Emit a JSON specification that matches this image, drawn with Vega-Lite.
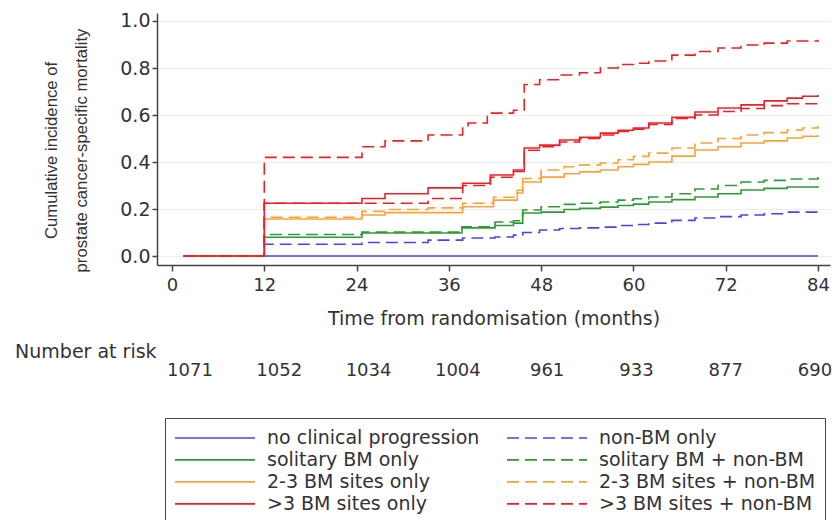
{
  "$schema": "https://vega.github.io/schema/vega-lite/v6.json",
  "width": 673,
  "height": 252,
  "autosize": {"type": "none"},
  "padding": {"left": 157, "top": 13, "right": 7, "bottom": 255},
  "background": "white",
  "config": {
    "view": {"stroke": null},
    "font": "DejaVu Sans",
    "axis": {
      "domainColor": "#444",
      "domainWidth": 1.5,
      "tickColor": "#444",
      "tickWidth": 1.5,
      "labelColor": "#333",
      "titleColor": "#333",
      "titleFontWeight": "normal",
      "labelFlush": false
    }
  },
  "layer": [
    {
      "data": {
        "values": [
          {"series": "no clinical progression", "month": 1.5, "cif": 0},
          {"series": "no clinical progression", "month": 12, "cif": 0},
          {"series": "no clinical progression", "month": 84, "cif": 0},

          {"series": "non-BM only", "month": 1.5, "cif": 0},
          {"series": "non-BM only", "month": 12, "cif": 0.05},
          {"series": "non-BM only", "month": 24.7, "cif": 0.058},
          {"series": "non-BM only", "month": 33.3, "cif": 0.068},
          {"series": "non-BM only", "month": 37.8, "cif": 0.077},
          {"series": "non-BM only", "month": 42, "cif": 0.081},
          {"series": "non-BM only", "month": 44.4, "cif": 0.089},
          {"series": "non-BM only", "month": 45.6, "cif": 0.1},
          {"series": "non-BM only", "month": 47.8, "cif": 0.111},
          {"series": "non-BM only", "month": 50.4, "cif": 0.117},
          {"series": "non-BM only", "month": 53, "cif": 0.12},
          {"series": "non-BM only", "month": 55.7, "cif": 0.123},
          {"series": "non-BM only", "month": 58, "cif": 0.13},
          {"series": "non-BM only", "month": 60, "cif": 0.134},
          {"series": "non-BM only", "month": 62, "cif": 0.14},
          {"series": "non-BM only", "month": 65, "cif": 0.152},
          {"series": "non-BM only", "month": 68, "cif": 0.162},
          {"series": "non-BM only", "month": 71, "cif": 0.168},
          {"series": "non-BM only", "month": 74, "cif": 0.175},
          {"series": "non-BM only", "month": 77, "cif": 0.18},
          {"series": "non-BM only", "month": 80, "cif": 0.187},
          {"series": "non-BM only", "month": 84, "cif": 0.191},

          {"series": "solitary BM only", "month": 1.5, "cif": 0},
          {"series": "solitary BM only", "month": 12, "cif": 0.08},
          {"series": "solitary BM only", "month": 24.7, "cif": 0.098},
          {"series": "solitary BM only", "month": 37.7, "cif": 0.12},
          {"series": "solitary BM only", "month": 42, "cif": 0.13},
          {"series": "solitary BM only", "month": 44.4, "cif": 0.14},
          {"series": "solitary BM only", "month": 45.6, "cif": 0.183},
          {"series": "solitary BM only", "month": 48, "cif": 0.187},
          {"series": "solitary BM only", "month": 51, "cif": 0.198},
          {"series": "solitary BM only", "month": 53, "cif": 0.203},
          {"series": "solitary BM only", "month": 55.7, "cif": 0.208},
          {"series": "solitary BM only", "month": 58, "cif": 0.215},
          {"series": "solitary BM only", "month": 60, "cif": 0.221},
          {"series": "solitary BM only", "month": 62, "cif": 0.23},
          {"series": "solitary BM only", "month": 65, "cif": 0.24},
          {"series": "solitary BM only", "month": 68, "cif": 0.251},
          {"series": "solitary BM only", "month": 71, "cif": 0.265},
          {"series": "solitary BM only", "month": 74, "cif": 0.281},
          {"series": "solitary BM only", "month": 77, "cif": 0.288},
          {"series": "solitary BM only", "month": 80, "cif": 0.294},
          {"series": "solitary BM only", "month": 84, "cif": 0.298},

          {"series": "solitary BM + non-BM", "month": 1.5, "cif": 0},
          {"series": "solitary BM + non-BM", "month": 12, "cif": 0.092},
          {"series": "solitary BM + non-BM", "month": 24.7, "cif": 0.102},
          {"series": "solitary BM + non-BM", "month": 37.7, "cif": 0.125},
          {"series": "solitary BM + non-BM", "month": 42, "cif": 0.145},
          {"series": "solitary BM + non-BM", "month": 44.4, "cif": 0.15},
          {"series": "solitary BM + non-BM", "month": 45.6, "cif": 0.196},
          {"series": "solitary BM + non-BM", "month": 48, "cif": 0.21},
          {"series": "solitary BM + non-BM", "month": 51, "cif": 0.22},
          {"series": "solitary BM + non-BM", "month": 53, "cif": 0.225},
          {"series": "solitary BM + non-BM", "month": 55.7, "cif": 0.23},
          {"series": "solitary BM + non-BM", "month": 58, "cif": 0.238},
          {"series": "solitary BM + non-BM", "month": 60, "cif": 0.244},
          {"series": "solitary BM + non-BM", "month": 62, "cif": 0.251},
          {"series": "solitary BM + non-BM", "month": 65, "cif": 0.265},
          {"series": "solitary BM + non-BM", "month": 68, "cif": 0.285},
          {"series": "solitary BM + non-BM", "month": 71, "cif": 0.3},
          {"series": "solitary BM + non-BM", "month": 74, "cif": 0.315},
          {"series": "solitary BM + non-BM", "month": 77, "cif": 0.322},
          {"series": "solitary BM + non-BM", "month": 80, "cif": 0.328},
          {"series": "solitary BM + non-BM", "month": 84, "cif": 0.336},

          {"series": "2-3 BM sites only", "month": 1.5, "cif": 0},
          {"series": "2-3 BM sites only", "month": 12, "cif": 0.158},
          {"series": "2-3 BM sites only", "month": 24.7, "cif": 0.175},
          {"series": "2-3 BM sites only", "month": 27.7, "cif": 0.185},
          {"series": "2-3 BM sites only", "month": 37.8, "cif": 0.21},
          {"series": "2-3 BM sites only", "month": 41.8, "cif": 0.238},
          {"series": "2-3 BM sites only", "month": 44.9, "cif": 0.268},
          {"series": "2-3 BM sites only", "month": 45.6, "cif": 0.315},
          {"series": "2-3 BM sites only", "month": 48, "cif": 0.336},
          {"series": "2-3 BM sites only", "month": 51, "cif": 0.35},
          {"series": "2-3 BM sites only", "month": 53, "cif": 0.358},
          {"series": "2-3 BM sites only", "month": 55.7, "cif": 0.366},
          {"series": "2-3 BM sites only", "month": 58, "cif": 0.38},
          {"series": "2-3 BM sites only", "month": 60, "cif": 0.39},
          {"series": "2-3 BM sites only", "month": 62, "cif": 0.4},
          {"series": "2-3 BM sites only", "month": 65, "cif": 0.425},
          {"series": "2-3 BM sites only", "month": 68, "cif": 0.451},
          {"series": "2-3 BM sites only", "month": 71, "cif": 0.465},
          {"series": "2-3 BM sites only", "month": 74, "cif": 0.481},
          {"series": "2-3 BM sites only", "month": 77, "cif": 0.49},
          {"series": "2-3 BM sites only", "month": 80, "cif": 0.502},
          {"series": "2-3 BM sites only", "month": 82, "cif": 0.51},
          {"series": "2-3 BM sites only", "month": 84, "cif": 0.515},

          {"series": "2-3 BM sites + non-BM", "month": 1.5, "cif": 0},
          {"series": "2-3 BM sites + non-BM", "month": 12, "cif": 0.165},
          {"series": "2-3 BM sites + non-BM", "month": 24.7, "cif": 0.19},
          {"series": "2-3 BM sites + non-BM", "month": 27.7, "cif": 0.198},
          {"series": "2-3 BM sites + non-BM", "month": 33.3, "cif": 0.205},
          {"series": "2-3 BM sites + non-BM", "month": 37.8, "cif": 0.225},
          {"series": "2-3 BM sites + non-BM", "month": 41.8, "cif": 0.25},
          {"series": "2-3 BM sites + non-BM", "month": 44.9, "cif": 0.28},
          {"series": "2-3 BM sites + non-BM", "month": 45.6, "cif": 0.33},
          {"series": "2-3 BM sites + non-BM", "month": 48, "cif": 0.366},
          {"series": "2-3 BM sites + non-BM", "month": 51, "cif": 0.38},
          {"series": "2-3 BM sites + non-BM", "month": 53, "cif": 0.388},
          {"series": "2-3 BM sites + non-BM", "month": 55.7, "cif": 0.396},
          {"series": "2-3 BM sites + non-BM", "month": 58, "cif": 0.41},
          {"series": "2-3 BM sites + non-BM", "month": 60, "cif": 0.424},
          {"series": "2-3 BM sites + non-BM", "month": 62, "cif": 0.438},
          {"series": "2-3 BM sites + non-BM", "month": 65, "cif": 0.46},
          {"series": "2-3 BM sites + non-BM", "month": 68, "cif": 0.481},
          {"series": "2-3 BM sites + non-BM", "month": 71, "cif": 0.5},
          {"series": "2-3 BM sites + non-BM", "month": 74, "cif": 0.515},
          {"series": "2-3 BM sites + non-BM", "month": 77, "cif": 0.525},
          {"series": "2-3 BM sites + non-BM", "month": 80, "cif": 0.536},
          {"series": "2-3 BM sites + non-BM", "month": 82, "cif": 0.545},
          {"series": "2-3 BM sites + non-BM", "month": 84, "cif": 0.553},

          {"series": "unlabelled red dashed curve", "month": 1.5, "cif": 0},
          {"series": "unlabelled red dashed curve", "month": 12, "cif": 0.225},
          {"series": "unlabelled red dashed curve", "month": 33.3, "cif": 0.245},
          {"series": "unlabelled red dashed curve", "month": 37.8, "cif": 0.3},
          {"series": "unlabelled red dashed curve", "month": 41.4, "cif": 0.335},
          {"series": "unlabelled red dashed curve", "month": 44.4, "cif": 0.36},
          {"series": "unlabelled red dashed curve", "month": 45.8, "cif": 0.45},
          {"series": "unlabelled red dashed curve", "month": 47.8, "cif": 0.465},
          {"series": "unlabelled red dashed curve", "month": 50.4, "cif": 0.485},
          {"series": "unlabelled red dashed curve", "month": 53, "cif": 0.5},
          {"series": "unlabelled red dashed curve", "month": 55.7, "cif": 0.515},
          {"series": "unlabelled red dashed curve", "month": 58, "cif": 0.53},
          {"series": "unlabelled red dashed curve", "month": 60, "cif": 0.54},
          {"series": "unlabelled red dashed curve", "month": 62, "cif": 0.56},
          {"series": "unlabelled red dashed curve", "month": 65, "cif": 0.585},
          {"series": "unlabelled red dashed curve", "month": 68, "cif": 0.6},
          {"series": "unlabelled red dashed curve", "month": 71, "cif": 0.615},
          {"series": "unlabelled red dashed curve", "month": 74, "cif": 0.628},
          {"series": "unlabelled red dashed curve", "month": 77, "cif": 0.64},
          {"series": "unlabelled red dashed curve", "month": 80, "cif": 0.648},
          {"series": "unlabelled red dashed curve", "month": 84, "cif": 0.655},

          {"series": ">3 BM sites + non-BM", "month": 1.5, "cif": 0},
          {"series": ">3 BM sites + non-BM", "month": 12, "cif": 0.42},
          {"series": ">3 BM sites + non-BM", "month": 24.7, "cif": 0.465},
          {"series": ">3 BM sites + non-BM", "month": 27.7, "cif": 0.49},
          {"series": ">3 BM sites + non-BM", "month": 33.3, "cif": 0.515},
          {"series": ">3 BM sites + non-BM", "month": 37.8, "cif": 0.545},
          {"series": ">3 BM sites + non-BM", "month": 38.5, "cif": 0.566},
          {"series": ">3 BM sites + non-BM", "month": 41, "cif": 0.608},
          {"series": ">3 BM sites + non-BM", "month": 44.4, "cif": 0.62},
          {"series": ">3 BM sites + non-BM", "month": 45.8, "cif": 0.73},
          {"series": ">3 BM sites + non-BM", "month": 47.8, "cif": 0.75},
          {"series": ">3 BM sites + non-BM", "month": 50.4, "cif": 0.77},
          {"series": ">3 BM sites + non-BM", "month": 53, "cif": 0.78},
          {"series": ">3 BM sites + non-BM", "month": 55.7, "cif": 0.8},
          {"series": ">3 BM sites + non-BM", "month": 58, "cif": 0.815},
          {"series": ">3 BM sites + non-BM", "month": 60, "cif": 0.82},
          {"series": ">3 BM sites + non-BM", "month": 62, "cif": 0.83},
          {"series": ">3 BM sites + non-BM", "month": 65, "cif": 0.855},
          {"series": ">3 BM sites + non-BM", "month": 68, "cif": 0.87},
          {"series": ">3 BM sites + non-BM", "month": 71, "cif": 0.885},
          {"series": ">3 BM sites + non-BM", "month": 74, "cif": 0.898},
          {"series": ">3 BM sites + non-BM", "month": 77, "cif": 0.906},
          {"series": ">3 BM sites + non-BM", "month": 80, "cif": 0.915},
          {"series": ">3 BM sites + non-BM", "month": 84, "cif": 0.92},

          {"series": ">3 BM sites only", "month": 1.5, "cif": 0},
          {"series": ">3 BM sites only", "month": 12, "cif": 0.225},
          {"series": ">3 BM sites only", "month": 24.7, "cif": 0.245},
          {"series": ">3 BM sites only", "month": 27.7, "cif": 0.265},
          {"series": ">3 BM sites only", "month": 33.3, "cif": 0.29},
          {"series": ">3 BM sites only", "month": 37.8, "cif": 0.31},
          {"series": ">3 BM sites only", "month": 41.4, "cif": 0.345},
          {"series": ">3 BM sites only", "month": 44.4, "cif": 0.366},
          {"series": ">3 BM sites only", "month": 45.8, "cif": 0.46},
          {"series": ">3 BM sites only", "month": 47.8, "cif": 0.472},
          {"series": ">3 BM sites only", "month": 50.4, "cif": 0.494},
          {"series": ">3 BM sites only", "month": 53, "cif": 0.505},
          {"series": ">3 BM sites only", "month": 55.7, "cif": 0.523},
          {"series": ">3 BM sites only", "month": 58, "cif": 0.535},
          {"series": ">3 BM sites only", "month": 60, "cif": 0.545},
          {"series": ">3 BM sites only", "month": 62, "cif": 0.566},
          {"series": ">3 BM sites only", "month": 65, "cif": 0.59},
          {"series": ">3 BM sites only", "month": 68, "cif": 0.613},
          {"series": ">3 BM sites only", "month": 71, "cif": 0.63},
          {"series": ">3 BM sites only", "month": 74, "cif": 0.643},
          {"series": ">3 BM sites only", "month": 77, "cif": 0.66},
          {"series": ">3 BM sites only", "month": 80, "cif": 0.672},
          {"series": ">3 BM sites only", "month": 82, "cif": 0.68},
          {"series": ">3 BM sites only", "month": 84, "cif": 0.685}
        ]
      },
      "mark": {"type": "line", "interpolate": "step-after", "strokeWidth": 1.6},
      "encoding": {
        "x": {
          "field": "month",
          "type": "quantitative",
          "scale": {"domain": [-1.95, 85.56], "nice": false, "zero": false},
          "axis": {
            "values": [0, 12, 24, 36, 48, 60, 72, 84],
            "title": "Time from randomisation (months)",
            "grid": false,
            "tickSize": 6,
            "labelFontSize": 18,
            "labelPadding": 5,
            "titleFontSize": 19,
            "titleY": 53,
            "titleBaseline": "middle"
          }
        },
        "y": {
          "field": "cif",
          "type": "quantitative",
          "scale": {"domain": [-0.038, 1.034], "nice": false, "zero": false},
          "axis": {
            "values": [0, 0.2, 0.4, 0.6, 0.8, 1.0],
            "format": ".1f",
            "title": ["Cumulative incidence of", "prostate cancer-specific mortality"],
            "grid": true,
            "gridColor": "#ededed",
            "gridWidth": 1,
            "tickSize": 5,
            "labelFontSize": 19,
            "labelPadding": 2,
            "titleFont": "Liberation Sans",
            "titleFontSize": 16.7,
            "titleLineHeight": 30,
            "titleAngle": -90,
            "titleAlign": "center",
            "titleBaseline": "bottom",
            "titleX": -97,
            "titleY": 137
          }
        },
        "color": {
          "field": "series",
          "type": "nominal",
          "scale": {
            "domain": ["no clinical progression", "non-BM only", "solitary BM only", "solitary BM + non-BM", "2-3 BM sites only", "2-3 BM sites + non-BM", ">3 BM sites only", ">3 BM sites + non-BM", "unlabelled red dashed curve"],
            "range": ["#4646e8", "#4646e8", "#2f9a34", "#2f9a34", "#f8a23a", "#f8a23a", "#ec2127", "#ec2127", "#ec2127"]
          },
          "legend": {
            "orient": "none",
            "legendX": 8,
            "legendY": 405,
            "columns": 2,
            "title": null,
            "values": ["no clinical progression", "solitary BM only", "2-3 BM sites only", ">3 BM sites only", "non-BM only", "solitary BM + non-BM", "2-3 BM sites + non-BM", ">3 BM sites + non-BM"],
            "symbolType": "stroke",
            "symbolSize": 6400,
            "symbolStrokeWidth": 1.6,
            "clipHeight": 21.7,
            "labelFontSize": 19,
            "labelColor": "#333",
            "labelOffset": 11,
            "labelLimit": 400,
            "columnPadding": 26,
            "rowPadding": 0,
            "padding": 9,
            "strokeColor": "#444",
            "fillColor": "white"
          }
        },
        "strokeDash": {
          "field": "series",
          "type": "nominal",
          "scale": {
            "domain": ["no clinical progression", "non-BM only", "solitary BM only", "solitary BM + non-BM", "2-3 BM sites only", "2-3 BM sites + non-BM", ">3 BM sites only", ">3 BM sites + non-BM", "unlabelled red dashed curve"],
            "range": [[1, 0], [12, 6], [1, 0], [12, 6], [1, 0], [12, 6], [1, 0], [12, 6], [12, 6]]
          },
          "legend": {
            "orient": "none",
            "legendX": 8,
            "legendY": 405,
            "columns": 2,
            "title": null,
            "values": ["no clinical progression", "solitary BM only", "2-3 BM sites only", ">3 BM sites only", "non-BM only", "solitary BM + non-BM", "2-3 BM sites + non-BM", ">3 BM sites + non-BM"],
            "symbolType": "stroke",
            "symbolSize": 6400,
            "symbolStrokeWidth": 1.6,
            "clipHeight": 21.7,
            "labelFontSize": 19,
            "labelColor": "#333",
            "labelOffset": 11,
            "labelLimit": 400,
            "columnPadding": 26,
            "rowPadding": 0,
            "padding": 9,
            "strokeColor": "#444",
            "fillColor": "white"
          }
        }
      }
    },
    {
      "data": {
        "values": [
          {"month": 0, "n": 1071},
          {"month": 12, "n": 1052},
          {"month": 24, "n": 1034},
          {"month": 36, "n": 1004},
          {"month": 48, "n": 961},
          {"month": 60, "n": 933},
          {"month": 72, "n": 877},
          {"month": 84, "n": 690}
        ]
      },
      "mark": {"type": "text", "fontSize": 18, "color": "#333", "align": "center", "baseline": "middle"},
      "encoding": {
        "x": {"field": "month", "type": "quantitative", "scale": {"domain": [-4.435, 86.02], "nice": false, "zero": false}, "axis": null},
        "y": {"datum": -0.489, "type": "quantitative", "scale": {"domain": [-0.038, 1.034], "nice": false, "zero": false}, "axis": null},
        "text": {"field": "n", "type": "quantitative", "format": "d"}
      }
    },
    {
      "data": {"values": [{"label": "Number at risk"}]},
      "mark": {"type": "text", "fontSize": 19, "color": "#333", "align": "left", "baseline": "middle"},
      "encoding": {
        "x": {"datum": -20.4, "type": "quantitative", "scale": {"domain": [-1.95, 85.56], "nice": false, "zero": false}, "axis": null},
        "y": {"datum": -0.4085, "type": "quantitative", "scale": {"domain": [-0.038, 1.034], "nice": false, "zero": false}, "axis": null},
        "text": {"field": "label", "type": "nominal"}
      }
    }
  ],
  "resolve": {"scale": {"x": "independent", "y": "independent"}}
}
